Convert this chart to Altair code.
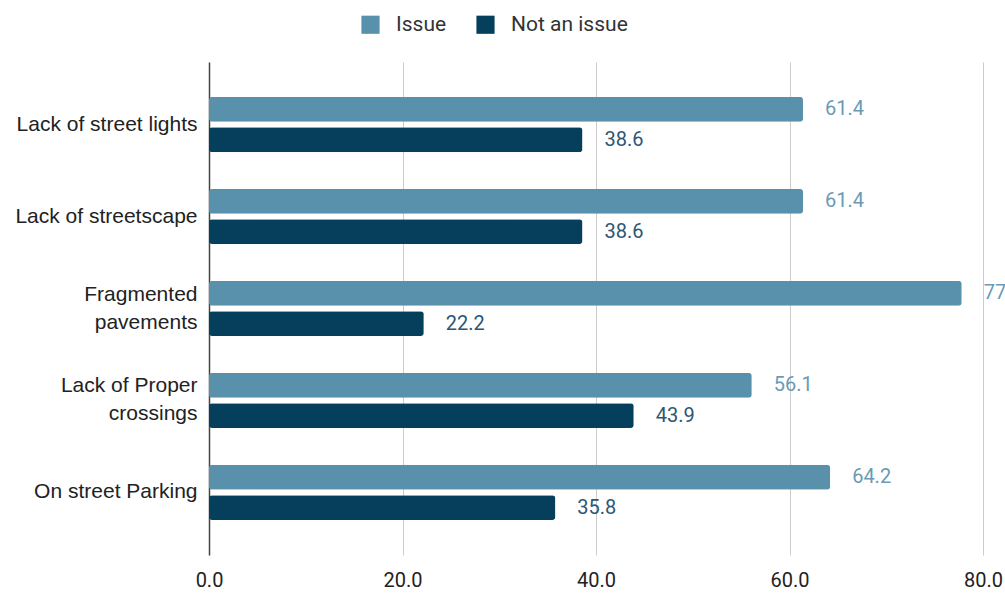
import altair as alt
import pandas as pd

categories = ["Lack of street lights", "Lack of streetscape", "Fragmented\npavements",
              "Lack of Proper\ncrossings", "On street Parking"]
series = ["Issue", "Not an issue"]
issue_vals = [61.4, 61.4, 77.8, 56.1, 64.2]
not_issue_vals = [38.6, 38.6, 22.2, 43.9, 35.8]
colors = ["#5990ac", "#053f5c"]
label_colors = ["#6a9ab5", "#2d5673"]

rows = []
for c, a, b in zip(categories, issue_vals, not_issue_vals):
    rows.append({"cat": c, "series": series[0], "value": a})
    rows.append({"cat": c, "series": series[1], "value": b})
df = pd.DataFrame(rows)

font = "Roboto"
lab_font = "Liberation Sans"

y_enc = alt.Y("cat:N", sort=categories,
              scale=alt.Scale(paddingInner=0.4, paddingOuter=0.38),
              axis=alt.Axis(title=None, labelExpr="split(datum.label, '\\n')",
                            labelFont=lab_font, labelFontSize=21, labelColor="#222",
                            labelPadding=12, ticks=False, domainColor="#444",
                            domainWidth=1.5, labelLineHeight=28, labelLimit=300,
                            labelOffset={"condition": {"test": "indexof(datum.value, '\\n') >= 0",
                                                       "value": -14},
                                         "value": 0}))
yoff = alt.YOffset("series:N", sort=series, scale=alt.Scale(paddingInner=0.18))
x_enc = alt.X("value:Q", scale=alt.Scale(domain=[0, 80], nice=False),
              axis=alt.Axis(title=None, values=[0, 20, 40, 60, 80], format=".1f",
                            labelFont=font, labelFontSize=20, labelColor="#222",
                            labelFlush=False,
                            domain=False, ticks=False, labelPadding=15,
                            gridColor="#cccccc", gridWidth=1))

bars = alt.Chart(df).mark_bar(cornerRadius=3).encode(
    x=x_enc, y=y_enc, yOffset=yoff,
    color=alt.Color("series:N", sort=series,
                    scale=alt.Scale(domain=series, range=colors),
                    legend=alt.Legend(title=None, orient="none", legendX=151, legendY=-48,
                                      direction="horizontal", symbolType="square",
                                      symbolSize=330, symbolStrokeWidth=0,
                                      labelFont=font, labelFontSize=21, labelColor="#333",
                                      labelOffset=15, columnPadding=28))
)

text = alt.Chart(df).mark_text(align="left", baseline="middle", dx=22,
                               font=font, fontSize=20).encode(
    x="value:Q", y=alt.Y("cat:N", sort=categories), yOffset=yoff,
    text=alt.Text("value:Q", format=".1f"),
    color=alt.Color("series:N", sort=series,
                    scale=alt.Scale(domain=series, range=label_colors), legend=None)
)

chart = alt.layer(bars, text).resolve_scale(color="independent").properties(
    width=774, height=493,
    autosize=alt.AutoSizeParams(type="none"),
    padding={"left": 209, "top": 62, "right": 22, "bottom": 39},
).configure_view(stroke=None)

chart.save("out.html", embed_options={"renderer": "svg", "actions": False})
